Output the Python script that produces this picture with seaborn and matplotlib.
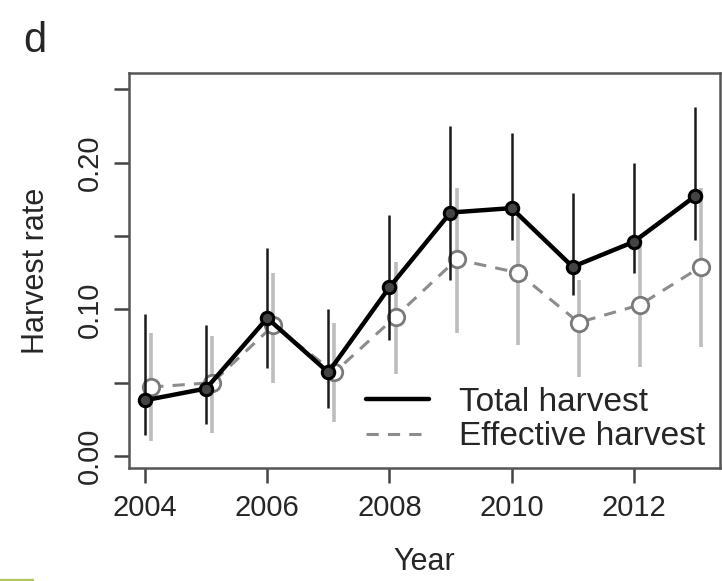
import matplotlib
matplotlib.use("Agg")
import matplotlib.pyplot as plt
import matplotlib.patches as mpatches
import seaborn as sns
import pandas as pd
import numpy as np

sns.set_theme(style="white")
plt.rcParams['font.family'] = ['Liberation Sans', 'DejaVu Sans']

# Data
years = [2004, 2005, 2006, 2007, 2008, 2009, 2010, 2011, 2012, 2013]
total = [0.038, 0.046, 0.094, 0.057, 0.115, 0.166, 0.169, 0.129, 0.146, 0.177]
total_lo = [0.014, 0.022, 0.060, 0.033, 0.079, 0.120, 0.147, 0.110, 0.125, 0.147]
total_hi = [0.097, 0.089, 0.142, 0.100, 0.164, 0.225, 0.220, 0.179, 0.200, 0.238]
effective = [0.047, 0.050, 0.089, 0.057, 0.095, 0.134, 0.125, 0.091, 0.103, 0.129]
effective_lo = [0.010, 0.016, 0.050, 0.023, 0.056, 0.084, 0.076, 0.054, 0.061, 0.074]
effective_hi = [0.084, 0.082, 0.125, 0.091, 0.132, 0.183, 0.163, 0.120, 0.145, 0.183]

dodge = 0.1  # effective harvest drawn slightly to the right

df = pd.DataFrame({
    'Year': years + [y + dodge for y in years],
    'rate': total + effective,
    'lo': total_lo + effective_lo,
    'hi': total_hi + effective_hi,
    'kind': ['Total harvest'] * len(years) + ['Effective harvest'] * len(years),
})
tot = df[df.kind == 'Total harvest']
eff = df[df.kind == 'Effective harvest']

fig = plt.figure(figsize=(7.22, 5.81), dpi=100)
ax = fig.add_axes([0.179, 0.195, 0.818, 0.679])

# effective first (underneath)
ax.vlines(eff.Year, eff.lo, eff.hi, color='#bdbdbd', lw=2.6, zorder=1)
sns.lineplot(data=eff, x='Year', y='rate', ax=ax, color='#8c8c8c', lw=2.2,
             dashes=False, linestyle=(0, (4, 3)), zorder=2, label='Effective harvest')
ax.scatter(eff.Year, eff.rate, s=140, facecolor='white', edgecolor='#7a7a7a',
           linewidth=2.0, zorder=3)

ax.vlines(tot.Year, tot.lo, tot.hi, color='#1a1a1a', lw=1.8, zorder=4)
sns.lineplot(data=tot, x='Year', y='rate', ax=ax, color='black', lw=3.2,
             zorder=5, label='Total harvest')
ax.scatter(tot.Year, tot.rate, s=80, facecolor='#444444', edgecolor='black',
           linewidth=2.2, zorder=6)

ax.set_xlim(2003.74, 2013.41)
ax.set_ylim(-0.008, 0.261)
ax.set_xticks([2004, 2006, 2008, 2010, 2012])
ax.set_yticks([0.0, 0.05, 0.10, 0.15, 0.20, 0.25])
ax.set_yticklabels(['0.00', '', '0.10', '', '0.20', ''], rotation=90, va='center')
ax.tick_params(axis='both', which='both', direction='out', length=11, width=1.8,
               color='#444444', labelsize=21, left=True, bottom=True)
ax.tick_params(axis='x', pad=8)
ax.tick_params(axis='y', pad=7)
for s in ax.spines.values():
    s.set_color('#555555')
    s.set_linewidth(1.8)

ax.set_xlabel('Year', fontsize=22, labelpad=18)
ax.set_ylabel('Harvest rate', fontsize=22, labelpad=18)

handles, labels = ax.get_legend_handles_labels()
order = [labels.index('Total harvest'), labels.index('Effective harvest')]
leg = ax.legend([handles[i] for i in order], [labels[i] for i in order],
                loc='lower right', frameon=False, fontsize=24, handlelength=1.9,
                handletextpad=0.9, labelspacing=0.1, borderaxespad=0.0,
                bbox_to_anchor=(0.998, 0.005))

fig.text(0.048, 0.93, 'd', fontsize=30, ha='center', va='center')

# faint green mark at the lower-left corner of the scan
fig.patches.append(mpatches.Rectangle((0, 0), 0.046, 0.004, transform=fig.transFigure,
                                      color='#a8c040', alpha=0.8, figure=fig))

fig.savefig('out.png', dpi=100)
